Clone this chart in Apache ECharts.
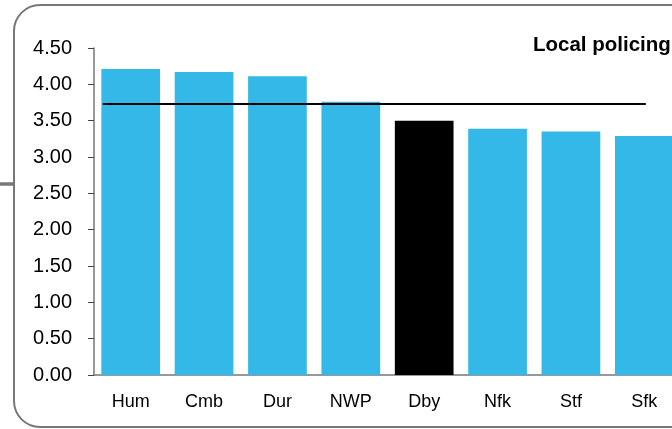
<!DOCTYPE html>
<html><head><meta charset="utf-8">
<script src="https://cdn.jsdelivr.net/npm/echarts@6/dist/echarts.min.js"></script>
<style>html,body{margin:0;padding:0;background:#fff}#c{width:672px;height:429px}</style>
</head><body><div id="c"></div>
<script>
const categories = ['Hum','Cmb','Dur','NWP','Dby','Nfk','Stf','Sfk'];
const values = [4.21, 4.17, 4.11, 3.76, 3.50, 3.39, 3.35, 3.29];
const highlight = 'Dby';
const averageValue = 3.73;
const averageSpan = [0.12, 7.52];
const yTicks = [0, 0.5, 1, 1.5, 2, 2.5, 3, 3.5, 4, 4.5];
const title = 'Local policing';

const FONT = 'Liberation Sans, Arial, sans-serif';
const chart = echarts.init(document.getElementById('c'));
chart.setOption({
  animation: false,
  textStyle: {fontFamily: FONT},
  title: {text: title, left: 533, top: 35, padding: 0,
    textStyle: {fontSize: 20.5, fontWeight: 'bold', color: '#000', fontFamily: FONT}},
  graphic: [
    {type: 'rect', shape: {x: 14, y: 5, width: 700, height: 422, r: 26},
     style: {fill: 'none', stroke: '#777', lineWidth: 2}, z: 100},
    {type: 'line', shape: {x1: 0, y1: 184, x2: 14, y2: 184},
     style: {stroke: '#777', lineWidth: 3.5}, z: 100}
  ],
  grid: {left: 94, top: 48, width: 587, height: 327, containLabel: false, outerBoundsMode: 'none'},
  xAxis: [
    {type: 'category', data: categories,
     axisLine: {lineStyle: {color: '#777', width: 1.5}},
     axisTick: {show: false},
     axisLabel: {color: '#000', fontSize: 18, margin: 18, fontFamily: FONT}},
    {type: 'value', min: 0, max: 8, show: false}
  ],
  yAxis: {type: 'value', min: 0, max: 4.5, interval: 0.5,
    axisLine: {show: true, lineStyle: {color: '#777', width: 1.5}},
    axisTick: {show: true, length: 6, lineStyle: {color: '#444'}},
    splitLine: {show: false},
    axisLabel: {color: '#000', fontSize: 20, margin: 22, fontFamily: FONT,
      formatter: v => yTicks.includes(v) ? v.toFixed(2) : ''}},
  series: [
    {type: 'bar', xAxisIndex: 0, barCategoryGap: '20%',
     data: categories.map((c, i) => ({value: values[i],
       itemStyle: {color: c === highlight ? '#000' : '#33B8E8'}}))},
    {type: 'line', xAxisIndex: 1, symbol: 'none', z: 5,
     lineStyle: {color: '#000', width: 2},
     data: averageSpan.map(x => [x, averageValue])}
  ]
});
</script></body></html>
